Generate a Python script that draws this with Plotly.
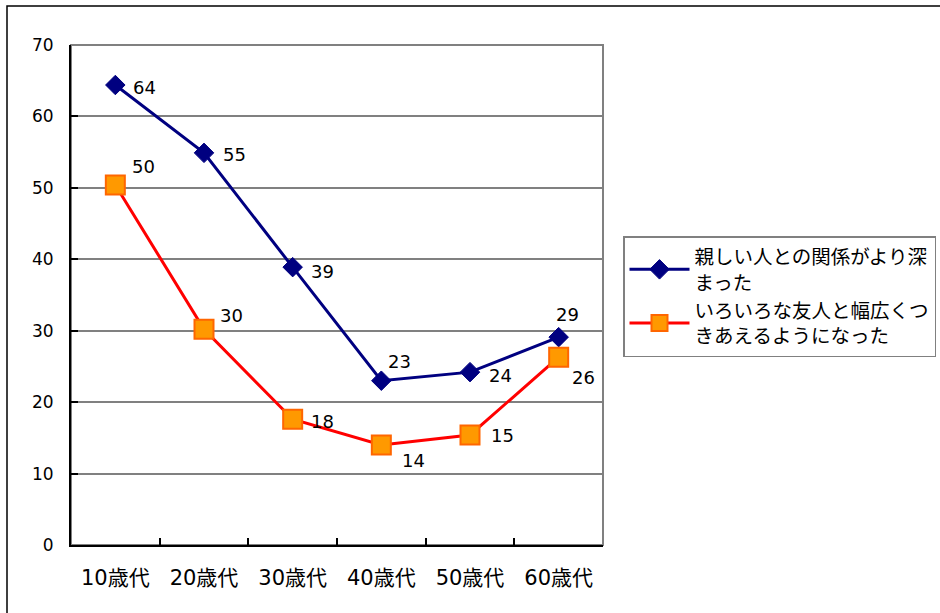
import plotly.graph_objects as go

categories = ["10歳代", "20歳代", "30歳代", "40歳代", "50歳代", "60歳代"]
series1_name = "親しい人との関係がより深<br>まった"
series1 = [64.4, 54.9, 38.9, 23.0, 24.2, 29.1]
series2_name = "いろいろな友人と幅広くつ<br>きあえるようになった"
series2 = [50.4, 30.2, 17.6, 14.0, 15.4, 26.3]
y_ticks = [0, 10, 20, 30, 40, 50, 60, 70]

# label offsets in pixels (dx, dy screen-down)
s1_offsets = [(29, 2), (30, 2), (30, 4), (18, -19), (30, 3), (9, -23)]
s2_offsets = [(28, -19), (27, -14), (30, 2), (32, 15), (32, 0), (25, 20)]

JP = "Noto Sans CJK JP"
NUM = "DejaVu Sans, Noto Sans CJK JP"

fig = go.Figure()
fig.add_trace(go.Scatter(
    x=categories, y=series1, name=series1_name, mode="lines+markers",
    line=dict(color="#000080", width=3),
    marker=dict(symbol="diamond", size=15, color="#000080",
                line=dict(color="#000080", width=1)),
))
fig.add_trace(go.Scatter(
    x=categories, y=series2, name=series2_name, mode="lines+markers",
    line=dict(color="#FF0000", width=3),
    marker=dict(symbol="square", size=19, color="#FF9900",
                line=dict(color="#FF6600", width=2)),
))

for vals, offs in ((series1, s1_offsets), (series2, s2_offsets)):
    for c, v, (dx, dy) in zip(categories, vals, offs):
        fig.add_annotation(x=c, y=v, text=f"{v:.0f}", showarrow=False,
                           xshift=dx, yshift=-dy,
                           font=dict(family=NUM, size=18, color="#000000"))

# plot area border (grey)
fig.add_shape(type="rect", xref="paper", yref="paper", x0=0, x1=1, y0=0, y1=1,
              line=dict(color="#808080", width=2), layer="below")
# outer chart frame
fig.add_shape(type="rect", xref="paper", yref="paper",
              x0=-0.1203, x1=1.8, y0=-0.2, y1=1.078,
              line=dict(color="#000000", width=1.5), layer="below")

fig.update_layout(
    width=940, height=613,
    margin=dict(l=71, r=337, t=45, b=68),
    paper_bgcolor="white", plot_bgcolor="white",
    font=dict(family=JP, size=19, color="#000000"),
    showlegend=True,
    legend=dict(xref="container", yref="container",
                x=623 / 940, y=1 - 236 / 613, xanchor="left", yanchor="top",
                bordercolor="#808080", borderwidth=1.5, bgcolor="white",
                font=dict(family=JP, size=19.5), tracegroupgap=5,
                itemwidth=60),
    xaxis=dict(type="category", showgrid=False, showline=True,
               linecolor="#000000", linewidth=2,
               ticks="inside", tickson="boundaries", ticklen=7,
               tickcolor="#000000", tickwidth=1.5,
               tickfont=dict(family=NUM, size=21),
               ticklabelstandoff=13, range=[-0.5, 5.5]),
    yaxis=dict(range=[0, 70], tickvals=y_ticks, showgrid=True,
               gridcolor="#808080", gridwidth=1.5, showline=True,
               linecolor="#000000", linewidth=2, zeroline=False,
               ticks="inside", ticklen=7, tickcolor="#000000", tickwidth=1.5,
               tickfont=dict(family=NUM, size=17),
               ticklabelstandoff=12),
)

fig.write_html("out.html")
